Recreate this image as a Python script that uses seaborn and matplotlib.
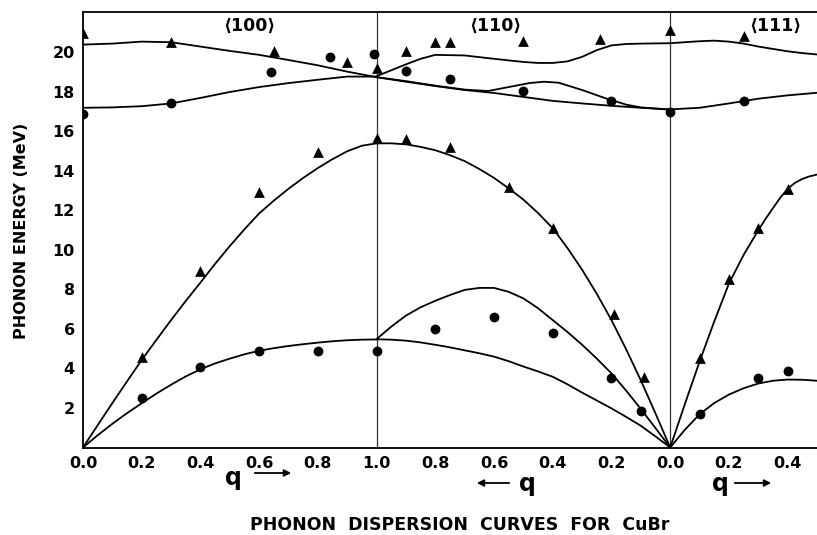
import numpy as np
import pandas as pd
import matplotlib
matplotlib.use("Agg")
import matplotlib.pyplot as plt
import seaborn as sns

# measured points, q read on each branch's own axis
tri_100_q = [0.0, 0.3, 0.65, 0.9, 1.0, 0.2, 0.4, 0.6, 0.8, 1.0]
tri_100_E = [21.0, 20.55, 20.1, 19.5, 19.2, 4.6, 8.95, 12.95, 14.98, 15.65]
circ_100_q = [0.0, 0.3, 0.64, 0.84, 0.99, 0.2, 0.4, 0.6, 0.8, 1.0]
circ_100_E = [16.87, 17.43, 19.03, 19.76, 19.9, 2.49, 4.09, 4.89, 4.89, 4.89]

tri_110_q = [0.9, 0.8, 0.75, 0.5, 0.24, 0.0, 0.9, 0.75, 0.55, 0.4, 0.19, 0.09]
tri_110_E = [20.09, 20.55, 20.55, 20.6, 20.67, 21.14, 15.6, 15.2, 13.2, 11.1, 6.74, 3.59]
circ_110_q = [0.9, 0.75, 0.5, 0.2, 0.0, 0.8, 0.6, 0.4, 0.2, 0.1]
circ_110_E = [19.08, 18.64, 18.07, 17.54, 17.0, 6.0, 6.62, 5.78, 3.53, 1.86]

tri_111_q = [0.25, 0.1, 0.2, 0.3, 0.4]
tri_111_E = [20.84, 4.55, 8.51, 11.1, 13.09]
circ_111_q = [0.25, 0.1, 0.3, 0.4]
circ_111_E = [17.54, 1.7, 3.53, 3.89]

# calculated curves
q_100 = [0.0, 0.1, 0.2, 0.3, 0.4, 0.5, 0.6, 0.7, 0.8, 0.9, 1.0]
to_100 = [17.2, 17.22, 17.28, 17.42, 17.7, 18.0, 18.25, 18.45, 18.62, 18.78, 18.78]
lo_100 = [20.4, 20.45, 20.55, 20.52, 20.3, 20.08, 19.88, 19.62, 19.35, 19.03, 18.75]
q_ac_100 = [0.0, 0.05, 0.1, 0.15, 0.2, 0.25, 0.3, 0.35, 0.4, 0.45, 0.5,
            0.55, 0.6, 0.65, 0.7, 0.75, 0.8, 0.85, 0.9, 0.95, 1.0]
ta_100 = [0.0, 0.62, 1.2, 1.74, 2.24, 2.73, 3.18, 3.6, 3.96, 4.26, 4.5,
          4.72, 4.9, 5.03, 5.14, 5.23, 5.31, 5.38, 5.43, 5.46, 5.47]
la_100 = [0.0, 1.13, 2.25, 3.35, 4.43, 5.45, 6.45, 7.42, 8.35, 9.3, 10.2,
          11.05, 11.85, 12.5, 13.1, 13.65, 14.15, 14.6, 15.0, 15.28, 15.4]

q_110 = [1.0, 0.9, 0.8, 0.7, 0.6, 0.5, 0.4, 0.3, 0.2, 0.1, 0.0]
low_110 = [18.75, 18.52, 18.3, 18.1, 17.95, 17.75, 17.55, 17.42, 17.3, 17.2, 17.12]
q_ac_110 = [1.0, 0.95, 0.9, 0.85, 0.8, 0.75, 0.7, 0.65, 0.6, 0.55, 0.5,
            0.45, 0.4, 0.35, 0.3, 0.25, 0.2, 0.15, 0.1, 0.05, 0.0]
la_110 = [15.4, 15.4, 15.35, 15.22, 15.05, 14.8, 14.5, 14.1, 13.65, 13.12, 12.55,
          11.87, 11.1, 10.1, 9.0, 7.78, 6.45, 4.97, 3.4, 1.72, 0.0]
ta1_110 = [5.48, 5.46, 5.41, 5.32, 5.2, 5.07, 4.92, 4.77, 4.6, 4.37, 4.1,
           3.85, 3.58, 3.2, 2.78, 2.38, 1.98, 1.55, 1.1, 0.56, 0.0]
ta2_110 = [5.49, 6.12, 6.68, 7.1, 7.43, 7.72, 7.98, 8.08, 8.08, 7.88, 7.55,
           7.05, 6.45, 5.85, 5.2, 4.5, 3.75, 2.88, 1.95, 0.98, 0.0]
q_mid_110 = [1.0, 0.9, 0.8, 0.7, 0.62, 0.55, 0.48, 0.43, 0.38, 0.3, 0.22, 0.15, 0.1, 0.0]
mid_110 = [18.75, 18.55, 18.32, 18.12, 18.05, 18.25, 18.45, 18.52, 18.47, 18.1, 17.68, 17.36, 17.22, 17.1]
q_top_110 = [1.0, 0.95, 0.9, 0.85, 0.8, 0.7, 0.6, 0.5, 0.45, 0.4, 0.35, 0.3, 0.25, 0.2, 0.15, 0.1, 0.0]
top_110 = [18.8, 19.1, 19.4, 19.68, 19.88, 19.85, 19.68, 19.52, 19.47, 19.47, 19.55, 19.78, 20.12, 20.36,
           20.43, 20.45, 20.47]

q_111 = [0.0, 0.05, 0.1, 0.15, 0.2, 0.25, 0.3, 0.35, 0.4, 0.45, 0.5]
ta_111 = [0.0, 0.9, 1.68, 2.25, 2.68, 3.0, 3.24, 3.38, 3.44, 3.43, 3.38]
top_111 = [20.47, 20.52, 20.57, 20.6, 20.55, 20.45, 20.3, 20.18, 20.06, 19.97, 19.9]
q_la_111 = [0.0, 0.05, 0.1, 0.15, 0.2, 0.25, 0.3, 0.325, 0.35, 0.375, 0.4, 0.425, 0.45, 0.475, 0.5]
la_111 = [0.0, 2.2, 4.35, 6.38, 8.3, 9.75, 11.0, 11.58, 12.12, 12.65, 13.1, 13.4, 13.6, 13.73, 13.82]
q_low_111 = [0.0, 0.1, 0.2, 0.25, 0.3, 0.4, 0.5]
low_111 = [17.12, 17.2, 17.42, 17.54, 17.66, 17.83, 17.96]

OFFSET = {"100": (0.0, 1), "110": (2.0, -1), "111": (2.0, 1)}


def to_x(branch, q):
    a, b = OFFSET[branch]
    return a + b * np.asarray(q, dtype=float)


def curve_df(name, branch, q, e):
    return pd.DataFrame({"x": to_x(branch, q), "E": e, "curve": name})


curves = pd.concat([
    curve_df("ta_100", "100", q_ac_100, ta_100),
    curve_df("la_100", "100", q_ac_100, la_100),
    curve_df("to_100", "100", q_100, to_100),
    curve_df("lo_100", "100", q_100, lo_100),
    curve_df("la_110", "110", q_ac_110, la_110),
    curve_df("ta1_110", "110", q_ac_110, ta1_110),
    curve_df("ta2_110", "110", q_ac_110, ta2_110),
    curve_df("low_110", "110", q_110, low_110),
    curve_df("mid_110", "110", q_mid_110, mid_110),
    curve_df("top_110", "110", q_top_110, top_110),
    curve_df("ta_111", "111", q_111, ta_111),
    curve_df("top_111", "111", q_111, top_111),
    curve_df("la_111", "111", q_la_111, la_111),
    curve_df("low_111", "111", q_low_111, low_111),
], ignore_index=True)

tris = pd.DataFrame({
    "x": np.concatenate([to_x("100", tri_100_q), to_x("110", tri_110_q), to_x("111", tri_111_q)]),
    "E": tri_100_E + tri_110_E + tri_111_E,
})
circs = pd.DataFrame({
    "x": np.concatenate([to_x("100", circ_100_q), to_x("110", circ_110_q), to_x("111", circ_111_q)]),
    "E": circ_100_E + circ_110_E + circ_111_E,
})

sns.set_theme(style="white")
plt.rcParams["font.family"] = ["DejaVu Sans"]
plt.rcParams["text.color"] = "black"
plt.rcParams["xtick.color"] = "black"
plt.rcParams["ytick.color"] = "black"

W, H = 817, 535
fig = plt.figure(figsize=(W / 100, H / 100), dpi=100)
ax = fig.add_axes([83 / W, (H - 447.5) / H, 734 / W, (447.5 - 12) / H])

sns.lineplot(data=curves, x="x", y="E", units="curve", estimator=None, sort=False,
             color="black", lw=1.3, ax=ax, legend=False)
sns.scatterplot(data=tris, x="x", y="E", marker="^", s=60, color="black",
                edgecolor="black", linewidth=0, ax=ax, legend=False, zorder=5)
sns.scatterplot(data=circs, x="x", y="E", marker="o", s=50, color="black",
                edgecolor="black", linewidth=0, ax=ax, legend=False, zorder=5)

for xv in [1.0, 2.0]:
    ax.axvline(xv, color="#333333", lw=0.9, zorder=1)

ax.set_xlim(0, 2.5)
ax.set_ylim(0, 22.05)
xt = [0.0, 0.2, 0.4, 0.6, 0.8, 1.0, 1.2, 1.4, 1.6, 1.8, 2.0, 2.2, 2.4]
xl = ["0.0", "0.2", "0.4", "0.6", "0.8", "1.0", "0.8", "0.6", "0.4", "0.2", "0.0", "0.2", "0.4"]
ax.set_xticks(xt)
ax.set_xticklabels(xl)
ax.set_yticks(range(2, 21, 2))
ax.tick_params(direction="in", length=9.5, width=1.1, labelsize=11.5, pad=6,
               color="black", labelcolor="black")
for lab in ax.get_xticklabels() + ax.get_yticklabels():
    lab.set_fontweight("bold")
ax.set_xlabel("")
ax.set_ylabel("")

for side in ["left", "bottom", "top"]:
    ax.spines[side].set_color("black")
    ax.spines[side].set_linewidth(1.3)
ax.spines["right"].set_visible(False)

for s, lab in [(0.565, "⟨100⟩"), (1.403, "⟨110⟩"), (2.357, "⟨111⟩")]:
    ax.text(s, 21.35, lab, ha="center", va="center", fontsize=12.5, fontweight="bold", color="black")

# q arrows under each branch
for qx, qy, x0, x1, ay in [(233, 478, 252, 294, 473), (527, 484, 512, 474, 483),
                           (720, 484, 732, 774, 483)]:
    fig.text(qx / W, 1 - qy / H, "q", ha="center", va="center", fontsize=17, fontweight="bold",
             color="black")
    ax.annotate("", xy=(x1, H - ay), xytext=(x0, H - ay), xycoords="figure pixels",
                textcoords="figure pixels",
                arrowprops=dict(arrowstyle="-|>", color="black", lw=1.3, mutation_scale=10))

fig.text(22 / W, 1 - 231 / H, "PHONON ENERGY (MeV)", rotation=90, ha="center", va="center",
         fontsize=11.5, fontweight="bold", color="black")
fig.text(460 / W, 1 - 525 / H, "PHONON  DISPERSION  CURVES  FOR  CuBr", ha="center", va="center",
         fontsize=12.5, fontweight="bold", color="black")

fig.savefig("out.png", dpi=100, facecolor="white")
